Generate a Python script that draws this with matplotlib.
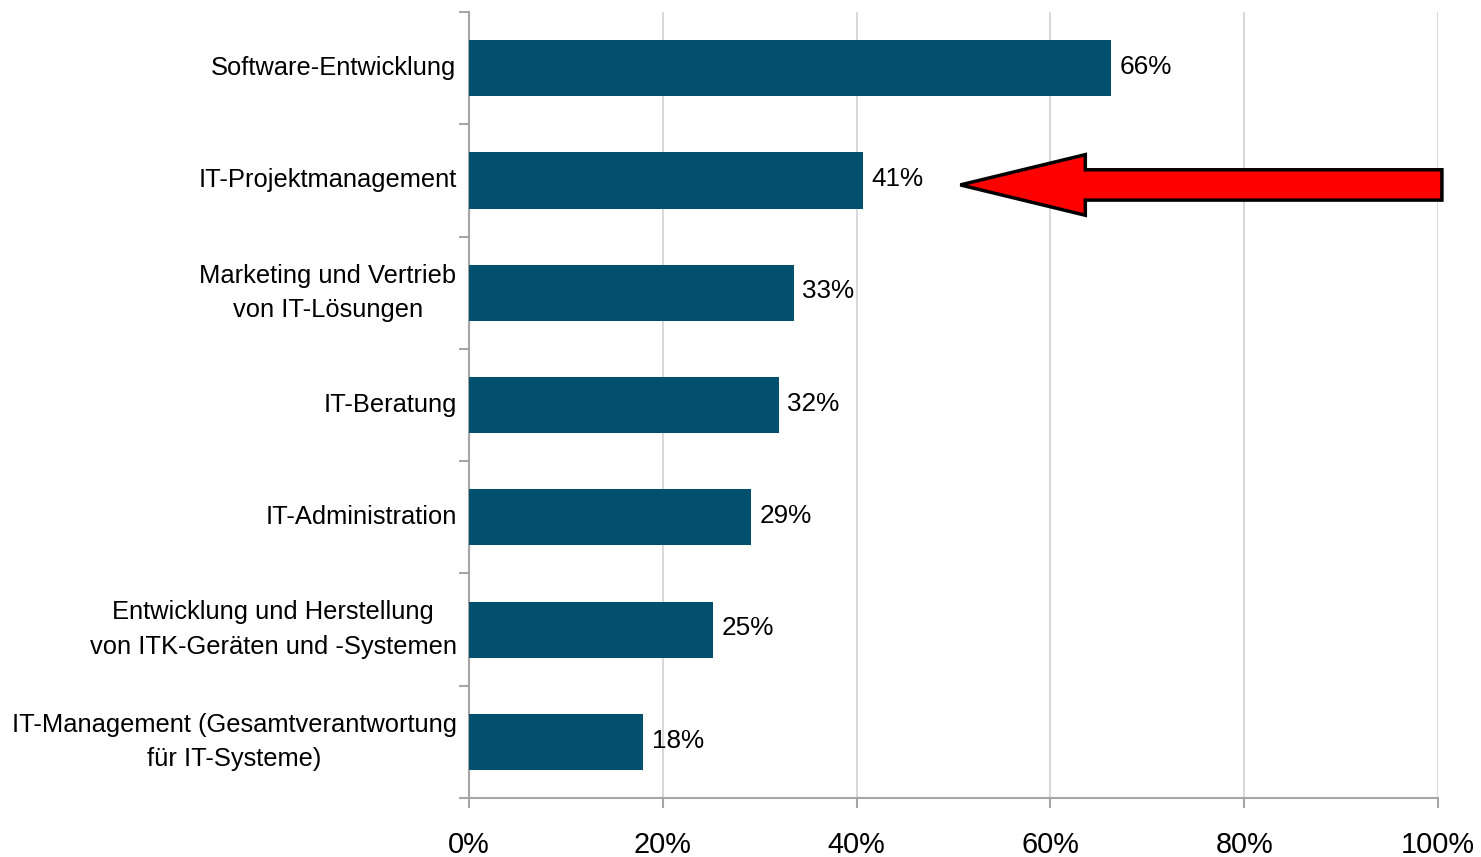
import numpy as np
import matplotlib
matplotlib.use("Agg")
import matplotlib.pyplot as plt
from matplotlib.patches import FancyArrow

plt.rcParams["font.family"] = ["Liberation Sans", "DejaVu Sans"]

# data (top to bottom)
categories = [
    "Software-Entwicklung",
    "IT-Projektmanagement",
    "Marketing und Vertrieb\nvon IT-Lösungen",
    "IT-Beratung",
    "IT-Administration",
    "Entwicklung und Herstellung\nvon ITK-Geräten und -Systemen",
    "IT-Management (Gesamtverantwortung\nfür IT-Systeme)",
]
values = [66.3, 40.7, 33.5, 32.0, 29.1, 25.2, 18.0]
labels = ["66%", "41%", "33%", "32%", "29%", "25%", "18%"]
x_ticks = [0, 20, 40, 60, 80, 100]

bar_color = "#03506e"
axis_color = "#a6a6a6"
grid_color = "#d9d9d9"

fig = plt.figure(figsize=(14.81, 8.57), dpi=100)
ax = fig.add_axes([0.3167, 0.0688, 0.971 - 0.3167, 0.986 - 0.0688])

n = len(categories)
ypos = np.arange(n)[::-1]  # first category at the top

ax.barh(ypos, values, height=0.5, color=bar_color, zorder=3)

# value labels next to the bars
for y, v, lab in zip(ypos, values, labels):
    ax.annotate(lab, (v, y), xytext=(6, 1), textcoords="offset points",
                ha="left", va="center", fontsize=18.8)

ax.set_xlim(0, 100)
ax.set_ylim(-0.5, n - 0.5)

# x axis
ax.set_xticks(x_ticks)
ax.set_xticklabels([f"{t}%" for t in x_ticks], fontsize=20.8)
ax.tick_params(axis="x", direction="out", length=7, width=1.5, color=axis_color, pad=17)
ax.xaxis.grid(True, color=grid_color, linewidth=1.5, zorder=0)

# y axis: ticks between categories, labels at category centres
ax.set_yticks(np.arange(-0.5, n, 1.0))
ax.set_yticklabels([])
ax.tick_params(axis="y", which="major", direction="out", length=7, width=1.5, color=axis_color)
ax.set_yticks(ypos, minor=True)
ax.set_yticklabels(categories, minor=True, fontsize=18.4, linespacing=1.55,
                   multialignment="center", va="center")
ax.tick_params(axis="y", which="minor", length=0, pad=9)

for side in ["top", "right"]:
    ax.spines[side].set_visible(False)
for side in ["left", "bottom"]:
    ax.spines[side].set_color(axis_color)
    ax.spines[side].set_linewidth(1.5)

# red arrow pointing at IT-Projektmanagement
arrow = FancyArrow(100.4, ypos[1] - 0.04, -49.7, 0, width=0.27, head_width=0.54,
                   head_length=12.9, length_includes_head=True,
                   facecolor="#ff0000", edgecolor="black", linewidth=2.5,
                   clip_on=False, zorder=5)
ax.add_patch(arrow)

fig.savefig("out.png", dpi=100)
